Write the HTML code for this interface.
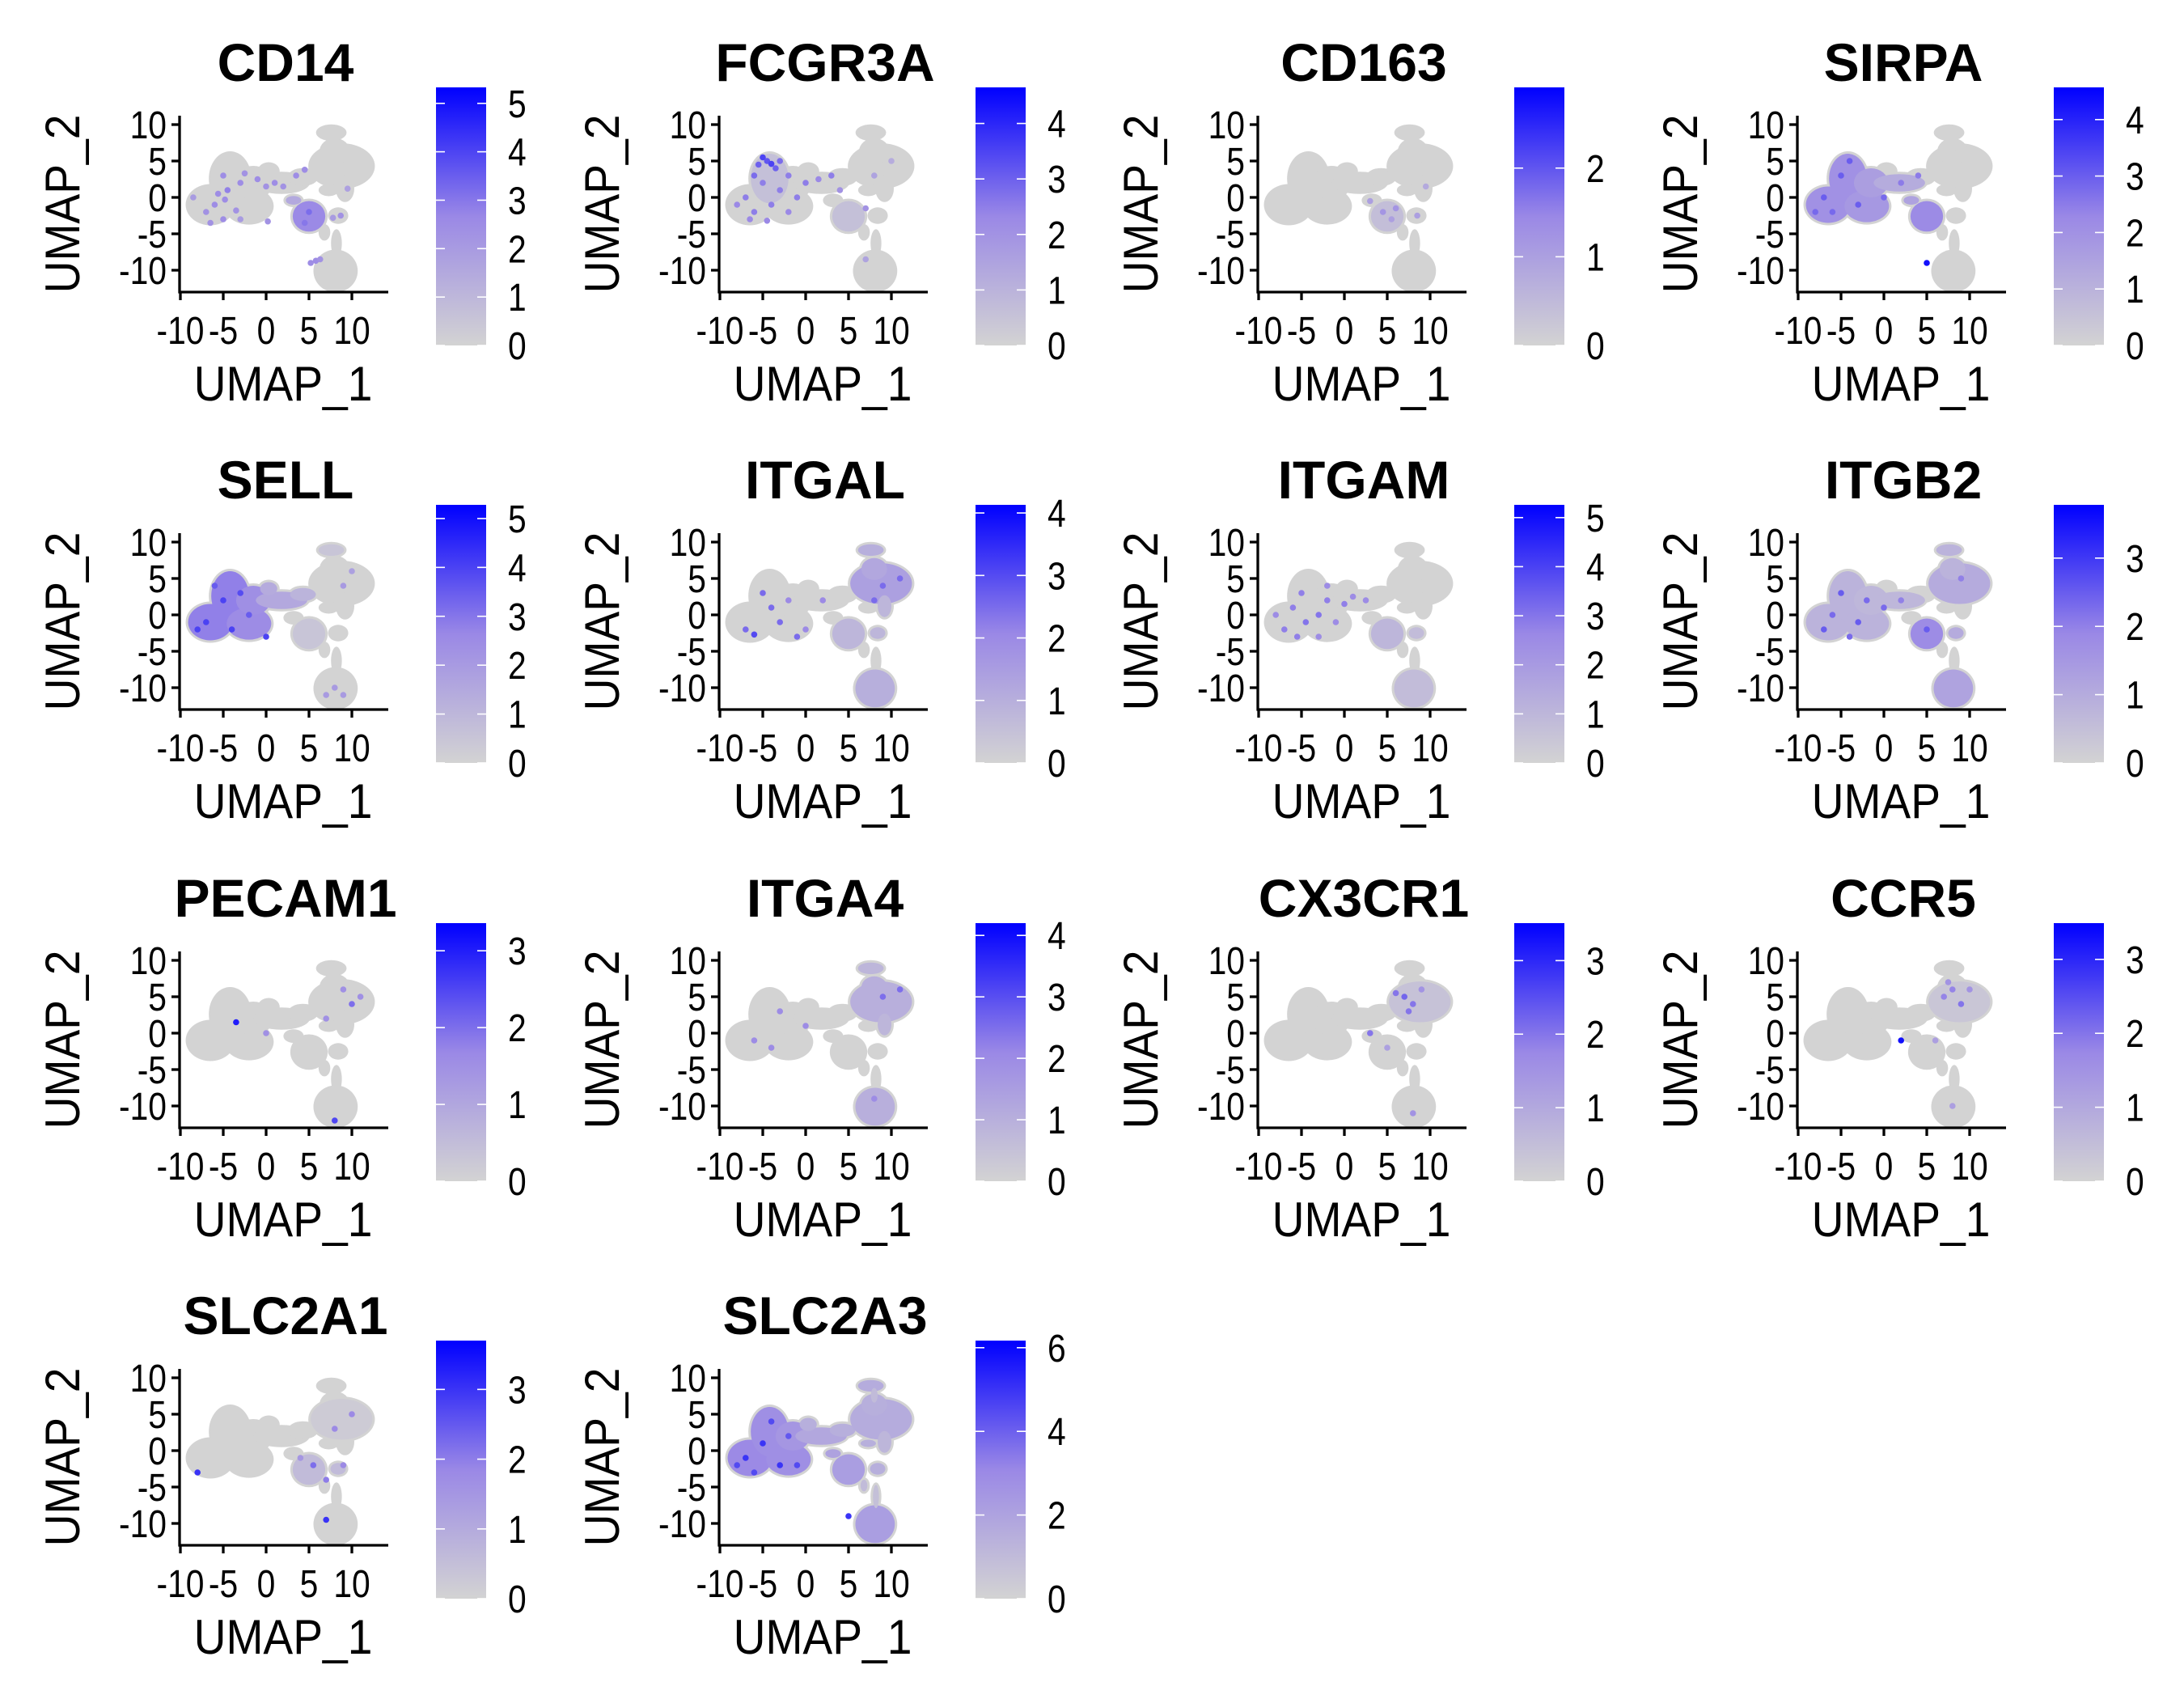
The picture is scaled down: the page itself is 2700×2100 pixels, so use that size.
<!DOCTYPE html>
<html><head><meta charset="utf-8"><style>
html,body{margin:0;padding:0;background:#fff;}
svg{display:block;}
text{font-family:"Liberation Sans",Arial,sans-serif;fill:#000;}
</style></head>
<body>
<svg id="fig" width="2700" height="2100" viewBox="0 0 2700 2100" xmlns="http://www.w3.org/2000/svg">
<defs>
<linearGradient id="cbgrad" x1="0" y1="1" x2="0" y2="0">
<stop offset="0" stop-color="#d3d3d3"/><stop offset="0.5" stop-color="#9a88e6"/><stop offset="1" stop-color="#0000ff"/>
</linearGradient>
</defs>
</svg>
<script>
const genes = ['CD14','FCGR3A','CD163','SIRPA','SELL','ITGAL','ITGAM','ITGB2','PECAM1','ITGA4','CX3CR1','CCR5','SLC2A1','SLC2A3'];
const maxVals = [5.33,4.65,2.91,4.57,5.28,4.13,5.26,3.78,3.36,4.2,3.51,3.49,3.7,6.17];
const cbSteps = [1,1,1,1,1,1,1,1,1,1,1,1,1,2];
const xTicks = [-10,-5,0,5,10];
const yTicks = [10,5,0,-5,-10];
// UMAP cluster outlines: [name, cx, cy, rx, ry] in UMAP units
const clusters = [
 ['left1',-6.5,-1.0,2.6,2.5],['left2',-4.2,2.6,2.2,3.4],['left3',-2.0,-1.2,2.6,2.2],['left4',-1.5,2.0,2.0,2.0],
 ['bridge',1.8,2.0,3.0,1.2],['lobe',0.3,3.6,1.0,0.9],['bridge2',4.3,2.8,1.5,0.9],
 ['rightTop',8.8,4.3,3.6,2.8],['rightTop2',8.0,6.3,1.5,1.5],['topSmall',7.6,8.9,1.5,0.8],['neck',8.0,7.6,0.4,1.0],
 ['rightTail',9.2,1.2,0.8,1.5],['smallR',7.3,1.0,0.9,0.5],
 ['mono',5.0,-2.6,1.9,2.1],['monoArm',3.2,-0.4,0.9,0.6],['monoTail',6.8,-4.8,0.4,0.8],['smallR2',8.4,-2.5,0.9,0.8],
 ['bottom',8.1,-10.1,2.3,2.6],['stem',8.2,-6.3,0.35,1.6]
];
// per-gene cluster tints [cluster, value]
const tint_CD14 = [['mono',2.6],['monoArm',1.5]];
const tint_FCGR3A = [['left2',0.6],['mono',0.6]];
const tint_CD163 = [['mono',0.4]];
const tint_SIRPA = [['left1',2.0],['left2',2.0],['left3',1.8],['left4',1.6],['bridge',1.2],['mono',2.2],['monoArm',1.5]];
const tint_SELL = [['left1',2.8],['left2',2.8],['left3',2.5],['left4',2.4],['bridge',1.5],['lobe',1.4],['bridge2',1.1],['mono',0.5],['topSmall',0.5]];
const tint_ITGAL = [['rightTop',1.4],['rightTop2',1.2],['topSmall',1.0],['mono',0.8],['bottom',1.0],['rightTail',0.8],['smallR2',0.8]];
const tint_ITGAM = [['mono',1.0],['bottom',0.8],['smallR2',0.8]];
const tint_ITGB2 = [['left1',0.8],['left2',0.8],['left3',0.8],['left4',0.7],['bridge',0.7],['mono',1.8],['rightTop',1.0],['rightTop2',0.8],['bottom',1.2],['smallR2',1.0],['topSmall',0.8]];
const tint_PECAM1 = [];
const tint_ITGA4 = [['rightTop',1.0],['rightTop2',1.0],['topSmall',0.8],['bottom',1.0],['rightTail',0.8]];
const tint_CX3CR1 = [['rightTop',0.4]];
const tint_CCR5 = [['rightTop',0.3]];
const tint_SLC2A1 = [['mono',0.6],['rightTop',0.2],['smallR2',0.6]];
const tint_SLC2A3 = [['left1',3.0],['left2',2.8],['left3',2.8],['left4',2.5],['bridge',1.8],['lobe',1.5],['bridge2',1.5],['rightTop',1.6],['rightTop2',1.5],['topSmall',1.6],['neck',1.0],['mono',2.2],['monoArm',2.0],['monoTail',1.0],['bottom',2.2],['stem',0.8],['rightTail',1.2],['smallR',1.5],['smallR2',1.5]];
// per-gene expressing cells [x, y, value]
const dots_CD14 = [[-5,3,2.5],[-4.5,1,2.8],[-6,-1,2.5],[-7,-2,2.3],[-5,-3,2.5],[-6.5,-3.5,2.3],[-3,2,2.5],[-2.5,3.3,2.3],[-1,2.5,2.5],[0,1.5,2.3],[1,2,2.5],[2,1.5,2.3],[3.5,3,2.5],[4.5,3.8,2.5],[-8.5,0,2],[-4.8,-0.3,2.5],[-3.5,-1.8,2.3],[-3,-3,2],[0.2,-3.3,2.3],[-5.6,0.5,2.5],[8.7,-2.5,2.3],[7.8,-2.8,2],[5.2,-9,2.5],[5.8,-8.7,2.5],[6.3,-8.5,2.3],[9.5,1.2,1.8],[5,-2,3.2],[4.5,-3.5,3]];
const dots_FCGR3A = [[-5,5.5,3.5],[-4.5,5,3.2],[-4,4.6,3.5],[-5.5,4.5,3],[-3.5,4,3],[-6,3,2.8],[-3,5,2.8],[-2,3,2.5],[-5,2,2.5],[-7,0,2.5],[-8,-1,2.3],[-6,-2,2.5],[-4,-1,2.5],[-2,-2,2.3],[-1,0,2.5],[-3,1,2.5],[0,2,2.5],[1.5,2.5,2.3],[3,3,2.5],[4,1,2],[-6.5,-3,2.3],[-4.5,-3.2,2.3],[7,-1.5,2],[8,3,1.5],[10,5,1.2],[7,-8.5,1.5]];
const dots_CD163 = [[4.5,-2,1.2],[5.5,-3,1],[6,-1.5,1.2],[3,-0.5,1],[8.5,-2.5,1],[9.5,1.5,0.8]];
const dots_SIRPA = [[5,-9,4.3],[-5,3,3],[-7,0,3],[-3,-1,3],[-6,-2,2.8],[2,2,2.5],[4,3,2.5],[-4,5,3],[-8,-2,2.8],[0,0,2.8]];
const dots_SELL = [[-7,-1,4],[-5,2,4],[-4,-2,4],[-6,4,3.5],[-2,0,3.5],[-8,-2,4],[-3,3,3.8],[0,-3,4],[9,4,2],[10,6,1.8],[8,-10,2],[7,-11,2],[9,-11,2]];
const dots_ITGAL = [[-5,3,2.5],[-3,-1,2.5],[-7,-2,2.5],[-6,-2.7,3],[-4,1,2.5],[-2,2,2],[0,-2,2],[-1,-3,2.5],[2,2,2],[9,4,2.5],[11,5,2.5],[8,2,2.5]];
const dots_ITGAM = [[-5,3,2.8],[-3,0,3],[-7,-2,2.8],[-4.5,-1,3],[-2,2,2.8],[-1,-1,2.5],[0,1.5,2.8],[-6,1,2.8],[-3,-3,2.5],[-8,0,2.5],[1,2.5,2.5],[2.5,2,2.5],[-5.5,-3,2.8],[-2,4,2.5]];
const dots_ITGB2 = [[-5,3,2.5],[-3,-1,2.5],[-7,-2,2.5],[-6,0,2.3],[-2,2,2.3],[0,1,2.3],[2,2,2],[9,5,2],[5,-2,2.5],[-4,-3,2.3]];
const dots_PECAM1 = [[-3.5,1.5,3],[0,0,1.5],[8,-12,2.5],[10,4,2],[9,6,1.5],[11,5,1.5],[7,2,1.5]];
const dots_ITGA4 = [[-6,-1,2],[-3,3,2],[-4,-2,2],[0,1,2],[9,5,2.5],[11,6,2.5],[8,-9,2]];
const dots_CX3CR1 = [[7,5,2.2],[8,4,2],[7.5,3,2],[9,6,1.5],[6,5.5,2],[3,0,2],[8,-11,1.5],[5,-2,1.2]];
const dots_CCR5 = [[2,-1,3.3],[7,5,1.8],[9,4,2],[8,6,1.8],[10,6,1.5],[7.5,7,1.5],[6,-1,1.2],[8,-10,1.2]];
const dots_SLC2A1 = [[-8,-3,3],[5.5,-2,2.2],[7,-4,2],[7,-9.5,3],[10,5,1.8],[8,3,1.8],[9,-2,1.8],[4,-1,1.5]];
const dots_SLC2A3 = [[-7,-1,5],[-5,1,5],[-3,-2,5],[-6,-3,4.5],[-4,4,4.5],[5,-9,5],[-1,-2,4.5],[-8,-2,4.5],[-2,2,4.2]];

const tints = [tint_CD14,tint_FCGR3A,tint_CD163,tint_SIRPA,tint_SELL,tint_ITGAL,tint_ITGAM,tint_ITGB2,tint_PECAM1,tint_ITGA4,tint_CX3CR1,tint_CCR5,tint_SLC2A1,tint_SLC2A3];
const dots = [dots_CD14,dots_FCGR3A,dots_CD163,dots_SIRPA,dots_SELL,dots_ITGAL,dots_ITGAM,dots_ITGB2,dots_PECAM1,dots_ITGA4,dots_CX3CR1,dots_CCR5,dots_SLC2A1,dots_SLC2A3];

const NS = 'http://www.w3.org/2000/svg';
const svg = document.getElementById('fig');
function mk(tag, attrs, parent){ const e=document.createElementNS(NS,tag); for(const k in attrs) e.setAttribute(k,attrs[k]); parent.appendChild(e); return e; }
function txt(parent, x, y, s, size, anchor, sxScale, rot){
  const t=mk('text',{x:0,y:0,'text-anchor':anchor,'font-size':size,transform:`translate(${x},${y})${rot?' rotate(-90)':''} scale(${sxScale},1)`},parent);
  t.textContent=s; return t;
}
function colorFor(v,max){
  let t=Math.max(0,Math.min(1,v/max));
  const s=[[211,211,211],[154,136,230],[0,0,255]];
  let a,b,u; if(t<0.5){a=s[0];b=s[1];u=t/0.5;} else {a=s[1];b=s[2];u=(t-0.5)/0.5;}
  return 'rgb('+[0,1,2].map(i=>Math.round(a[i]+(b[i]-a[i])*u)).join(',')+')';
}
const colX=[0,667,1333,2000], rowY=[0,516,1033,1549];
const X0=222, X1=480, Y0=143, Y1=361;
function sx(d){return 329+d*10.6;}
function sy(d){return 244-d*9.0;}
const CBT=108, CBB=427;

genes.forEach((g,i)=>{
  const ox=colX[i%4], oy=rowY[Math.floor(i/4)];
  const p=mk('g',{transform:`translate(${ox},${oy})`},svg);
  
  
  const title=mk('text',{x:353,y:100,'text-anchor':'middle','font-size':66,'font-weight':'bold'},p);
  title.textContent=g;
  
  
  const cg=mk('g',{},p);
  
  
  clusters.forEach(c=>{
    const e=mk('ellipse',{cx:sx(c[1]),cy:sy(c[2]),rx:c[3]*10.6+3,ry:c[4]*9.0+3,fill:'#d3d3d3'},cg);
    
    
  });
  tints[i].forEach(t=>{
    const c=clusters.find(k=>k[0]===t[0]);
    const e=mk('ellipse',{cx:sx(c[1]),cy:sy(c[2]),rx:c[3]*10.6,ry:c[4]*9.0,fill:colorFor(t[1],maxVals[i])},cg);
    
    
  });
  dots[i].forEach(d=>{
    const e=mk('circle',{cx:sx(d[0]),cy:sy(d[1]),r:3.8,fill:colorFor(d[2],maxVals[i])},cg);
    
    
  });
  const ax=mk('path',{d:`M${X0},${Y0} V${Y1} H${X1}`,stroke:'#000','stroke-width':3.3,fill:'none'},p);
  
  
  xTicks.forEach(t=>{
    mk('line',{x1:sx(t),x2:sx(t),y1:Y1,y2:Y1+10,stroke:'#000','stroke-width':3.3},p);
    const tx=txt(p,sx(t),425,t,48,'middle',0.85,false);
    
    
  });
  yTicks.forEach(t=>{
    mk('line',{x1:X0-10,x2:X0,y1:sy(t),y2:sy(t),stroke:'#000','stroke-width':3.3},p);
    const tx=txt(p,206,sy(t)+17,t,48,'end',0.85,false);
    
    
  });
  const xl=txt(p,350,495,'UMAP_1',60,'middle',0.92,false);
  
  
  const yl=txt(p,98,252,'UMAP_2',60,'middle',0.92,true);
  
  
  const cb=mk('rect',{x:539,y:CBT,width:62,height:CBB-CBT,fill:'url(#cbgrad)'},p);
  
  
  const mx=maxVals[i], st=cbSteps[i];
  for(let v=0; v<=mx+1e-9; v+=st){
    const y=CBB-(v/mx)*(CBB-CBT);
    mk('line',{x1:539,x2:550,y1:y,y2:y,stroke:'#fff','stroke-width':1.6},p);
    mk('line',{x1:590,x2:601,y1:y,y2:y,stroke:'#fff','stroke-width':1.6},p);
    const lt=txt(p,628,y+17,v,48,'start',0.85,false);
    
    
  }
});
</script>
</body></html>
